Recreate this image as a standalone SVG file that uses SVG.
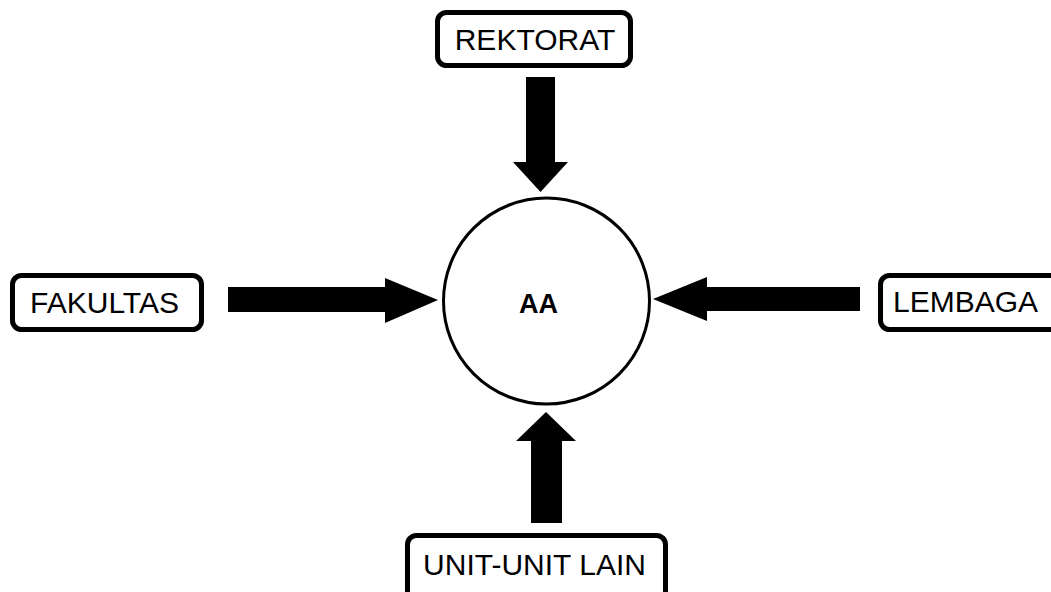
<svg xmlns="http://www.w3.org/2000/svg" width="1051" height="592" viewBox="0 0 1051 592">
<style>
.box{fill:#fff;stroke:#000;stroke-width:5}
.lbl{font-family:"Liberation Sans",Arial,sans-serif;font-size:30px;fill:#000}
.arr{fill:#000}
</style>
<rect width="1051" height="592" fill="#fff"/>
<g id="connectors">
<polygon class="arr" points="526,77 555,77 555,162 568,162 540.5,192 513,162 526,162"/>
<polygon class="arr" points="228,287 385,287 385,278 438,300 385,323 385,312 228,312"/>
<polygon class="arr" points="860,287 707,287 707,277 653,299 707,321 707,311 860,311"/>
<polygon class="arr" points="531,523 531,441 516,441 546,412 576,441 562,441 562,523"/>
</g>
<g id="node-aa">
<circle cx="546.5" cy="301" r="103" fill="#fff" stroke="#000" stroke-width="3"/>
<text x="538.5" y="313" text-anchor="middle" font-family="Liberation Sans,Arial,sans-serif" font-size="27" font-weight="bold">AA</text>
</g>
<g id="node-rektorat">
<rect class="box" x="437.5" y="12.5" width="193" height="53" rx="9"/>
<text class="lbl" x="535" y="50" text-anchor="middle">REKTORAT</text>
</g>
<g id="node-fakultas">
<rect class="box" x="12.5" y="275.5" width="189" height="54" rx="9"/>
<text class="lbl" x="104.5" y="313" text-anchor="middle">FAKULTAS</text>
</g>
<g id="node-lembaga">
<rect class="box" x="880.5" y="275.5" width="200" height="54" rx="9"/>
<text class="lbl" x="893" y="312">LEMBAGA</text>
</g>
<g id="node-unit">
<rect class="box" x="407.5" y="535.5" width="258" height="80" rx="9"/>
<text class="lbl" x="534.5" y="575" text-anchor="middle">UNIT-UNIT LAIN</text>
</g>
</svg>
